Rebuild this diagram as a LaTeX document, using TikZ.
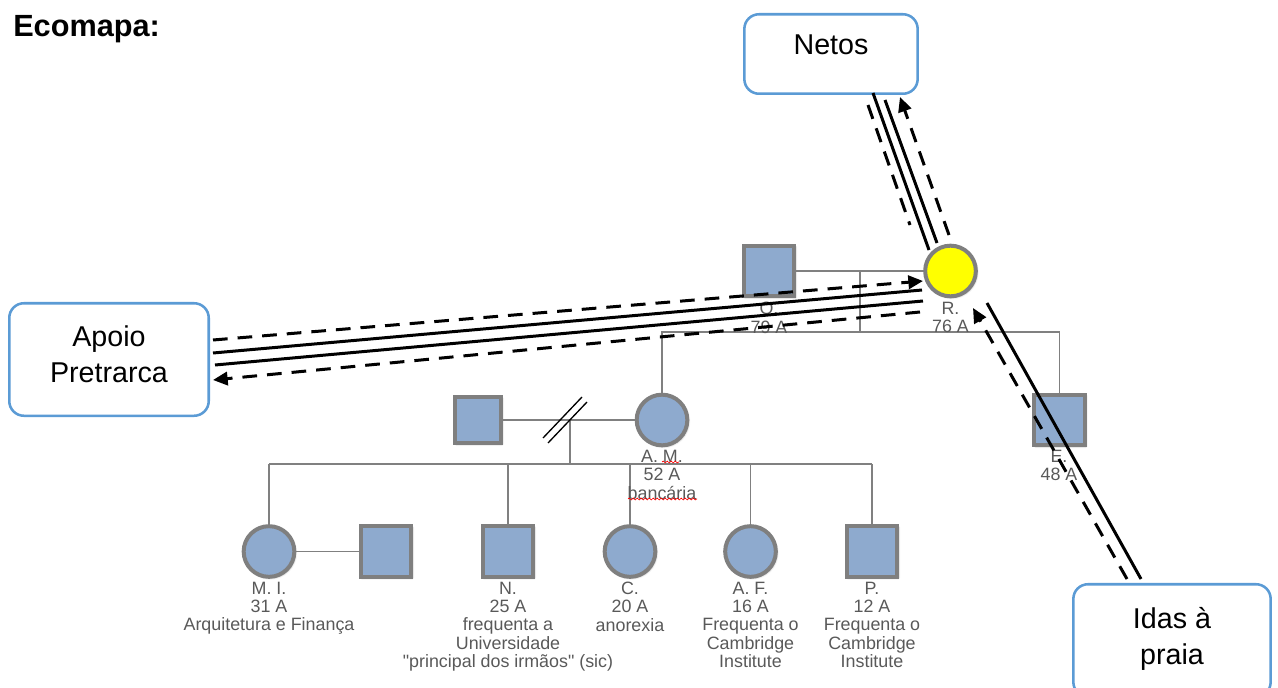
\documentclass[tikz,border=0pt]{standalone}
\usepackage{fontspec}
\setmainfont{Liberation Sans}[Ligatures=TeXOff]
\usetikzlibrary{arrows.meta,shadows.blur,decorations.pathmorphing}

\definecolor{genline}{RGB}{128,128,128}
\definecolor{shapefill}{RGB}{142,170,206}
\definecolor{shapeborder}{RGB}{127,127,127}
\definecolor{labelgrey}{RGB}{89,89,89}
\definecolor{boxblue}{RGB}{91,155,213}
\definecolor{ryellow}{RGB}{255,255,0}

\begin{document}
\begin{tikzpicture}[x=0.75pt,y=-0.75pt,
  person/.style={draw=shapeborder, line width=3pt, fill=shapefill, inner sep=0pt,
    minimum size=38pt,
    blur shadow={shadow xshift=0.9pt, shadow yshift=-0.9pt, shadow blur radius=1.4pt, shadow opacity=40}},
  male/.style={person, rectangle},
  female/.style={person, circle},
  gline/.style={draw=genline, line width=1.1pt},
  lbl/.style={text=labelgrey, align=center, inner sep=0pt, anchor=north,
    font=\fontsize{13.4}{13.8}\selectfont},
  sysbox/.style={draw=boxblue, line width=1.9pt, rounded corners=11pt, fill=white, inner sep=0pt},
  systext/.style={align=center, inner sep=0pt, anchor=north, font=\fontsize{21.5}{27.5}\selectfont},
  strong/.style={line width=2.25pt, black},
  flow/.style={line width=2.25pt, black, dash pattern=on 11pt off 7.5pt},
  tip/.style={-{Triangle[length=11pt,width=10pt]}},
  spell/.style={red, line width=0.5pt, decorate, decoration={snake, amplitude=0.7pt, segment length=3pt}},
]
\useasboundingbox (0,0) rectangle (1278,688);
\clip (0,0) rectangle (1278,688);

% title
\node[anchor=base west, inner sep=0pt, font=\fontsize{23}{27}\selectfont\bfseries] (title) at (13,37) {Ecomapa:};

% genogram: people
\node[male] (O) at (769,271) {};
\node[female, fill=ryellow] (R) at (950.5,271) {};
\node[female] (AM) at (662,420) {};
\node[male, minimum size=34.5pt] (X) at (478,420) {};
\node[male] (E) at (1059.5,420) {};
\node[female] (MI) at (269,551.5) {};
\node[male] (MIp) at (386,551.5) {};
\node[male] (N) at (508,551.5) {};
\node[female] (C) at (630,551.5) {};
\node[female] (AF) at (750.5,551.5) {};
\node[male] (P) at (872,551.5) {};

% genogram: relations
\coordinate (m1) at (860,271);
\coordinate (m1b) at (860,332);
\draw[gline] (O.east) -- (R.west);
\draw[gline] (m1) -- (m1b);
\draw[gline] (AM.north) -- (AM.north |- m1b) -- (E.north |- m1b) -- (E.north);

\coordinate (m2) at (570,420);
\coordinate (m2b) at (570,464);
\draw[gline] (X.east) -- (AM.west);
\draw[gline] (m2) -- (m2b);
\draw[gline] (MI.north |- m2b) -- (P.north |- m2b);
\foreach \k in {MI,N,C,AF,P} {
  \draw[gline] (\k.north |- m2b) -- (\k.north);
}
\draw[gline] (MI.east) -- (MIp.west);

% divorce marks
\draw[black, line width=1pt] (543,438) -- (582,397);
\draw[black, line width=1pt] (548,443) -- (587,402);

% genogram: labels
\node[lbl] (lO) at (769,302) {O.\\79 A};
\node[lbl] (lR) at (950.5,302) {R.\\76 A};
\node[lbl] (lAM) at (662,450) {A. M.\\52 A\\bancária};
\node[lbl] (lE) at (1059,450) {E.\\48 A};
\node[lbl] (lMI) at (269,581.5) {M. I.\\31 A\\Arquitetura e Finança};
\node[lbl] (lN) at (508,581.5) {N.\\25 A\\frequenta a\\Universidade\\"principal dos irmãos" (sic)};
\node[lbl] (lC) at (630,581.5) {C.\\20 A\\anorexia};
\node[lbl] (lAF) at (750.5,581.5) {A. F.\\16 A\\Frequenta o\\Cambridge\\Institute};
\node[lbl] (lP) at (872,581.5) {P.\\12 A\\Frequenta o\\Cambridge\\Institute};

\draw[spell] (662,462) -- (679,462);
\draw[spell] (628,499) -- (697,499);

% external systems
\node[sysbox, minimum width=130pt, minimum height=59.6pt] (netos) at (831,54) {};
\node[systext] (tnetos) at (831,35) {Netos};
\node[sysbox, minimum width=149.6pt, minimum height=84.4pt] (apoio) at (109,359.5) {};
\node[systext] (tapoio) at (109,325) {Apoio\\Pretrarca};
\node[sysbox, minimum width=148pt, minimum height=84.4pt] (idas) at (1172,640.5) {};
\node[systext] (tidas) at (1172,606.7) {Idas à\\praia};

% ecomap connection end points
\coordinate (nt1a) at (868,105);  \coordinate (nt1b) at (910,225);
\coordinate (nt2a) at (873,93);   \coordinate (nt2b) at (929,250);
\coordinate (nt3a) at (885,100);  \coordinate (nt3b) at (937,243);
\coordinate (nt4a) at (949,235);  \coordinate (nt4b) at (900,97);

\coordinate (ap1a) at (213,340);  \coordinate (ap1b) at (923,281);
\coordinate (ap2a) at (213,353);  \coordinate (ap2b) at (922,290);
\coordinate (ap3a) at (215,365);  \coordinate (ap3b) at (923,301);
\coordinate (ap4a) at (920,312);  \coordinate (ap4b) at (213,380);

\coordinate (id1a) at (987,303);  \coordinate (id1b) at (1141,579);
\coordinate (id2a) at (1127,579); \coordinate (id2b) at (973,308);

% ecomap: Netos
\draw[flow] (nt1a) -- (nt1b);
\draw[strong] (nt2a) -- (nt2b);
\draw[strong] (nt3a) -- (nt3b);
\draw[flow, tip] (nt4a) -- (nt4b);

% ecomap: Apoio Pretrarca
\draw[flow, tip] (ap1a) -- (ap1b);
\draw[strong] (ap2a) -- (ap2b);
\draw[strong] (ap3a) -- (ap3b);
\draw[flow, tip] (ap4a) -- (ap4b);

% ecomap: Idas a praia
\draw[strong] (id1a) -- (id1b);
\draw[flow, tip] (id2a) -- (id2b);

\end{tikzpicture}
\end{document}
